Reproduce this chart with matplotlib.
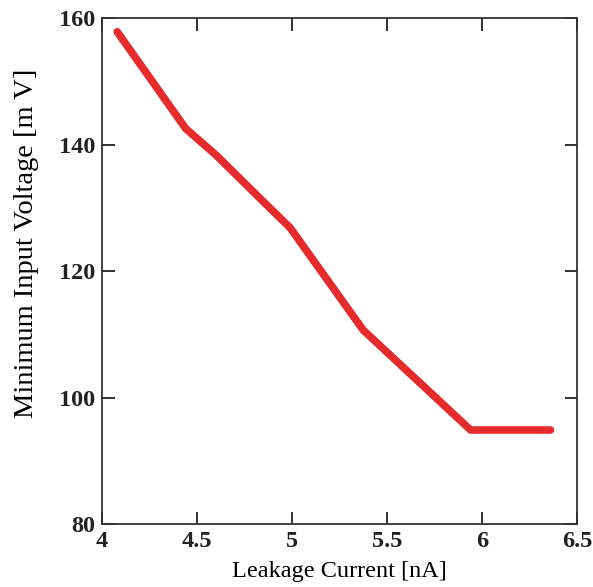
import matplotlib
matplotlib.use("Agg")
import matplotlib.pyplot as plt

# leakage current [nA] vs minimum input voltage [mV]
current = [4.08, 4.44, 4.60, 4.85, 4.99, 5.375, 5.94, 6.36]
voltage = [157.9, 142.6, 138.4, 131.0, 126.9, 110.7, 94.9, 94.9]

x_ticks = [4, 4.5, 5, 5.5, 6, 6.5]
x_tick_labels = ["4", "4.5", "5", "5.5", "6", "6.5"]
y_ticks = [80, 100, 120, 140, 160]

plt.rcParams['font.family'] = ['Liberation Serif', 'DejaVu Serif']

fig = plt.figure(figsize=(5.93, 5.87), dpi=100)
ax = fig.add_axes([0.172, 0.107, 0.801, 0.8615])

ax.plot(current, voltage, color='#e52b2b', linewidth=5.5, solid_capstyle='round',
        solid_joinstyle='round')

ax.set_xlim(4, 6.5)
ax.set_ylim(80, 160)
ax.set_xticks(x_ticks)
ax.set_xticklabels(x_tick_labels)
ax.set_yticks(y_ticks)

ax.tick_params(direction='in', length=9, width=1.3, top=True, right=True,
               labelsize=17.5, colors='#222222', pad=5)
for lbl in ax.get_xticklabels() + ax.get_yticklabels():
    lbl.set_fontweight('bold')
for s in ax.spines.values():
    s.set_linewidth(1.3)
    s.set_color('#333333')

ax.set_xlabel('Leakage Current [nA]', fontsize=17.5)
ax.set_ylabel('Minimum Input Voltage [m V]', fontsize=20.5)
ax.xaxis.set_label_coords(0.5, -0.073)
ax.yaxis.set_label_coords(-0.133, 0.555)

plt.savefig("out.png", dpi=100)
